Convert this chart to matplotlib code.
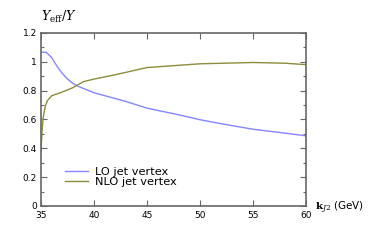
import matplotlib
matplotlib.use("Agg")
from matplotlib import pyplot as plt
from matplotlib.ticker import MultipleLocator

# LO / NLO jet vertex, Y_eff / Y vs k_J2
lo_k = [35, 35.5, 36, 36.5, 37, 37.5, 38, 38.5, 39, 40, 41, 42, 43, 45, 48, 50, 52, 55, 58, 60]
lo_y = [1.068, 1.065, 1.03, 0.97, 0.92, 0.88, 0.85, 0.83, 0.815, 0.785, 0.765, 0.745, 0.725, 0.678, 0.632, 0.598, 0.57, 0.532, 0.505, 0.486]

nlo_k = [35, 35.1, 35.2, 35.4, 35.6, 36, 37, 38, 39, 40, 42, 45, 50, 55, 58, 60]
nlo_y = [0.38, 0.52, 0.61, 0.69, 0.73, 0.764, 0.79, 0.82, 0.862, 0.88, 0.91, 0.96, 0.986, 0.995, 0.99, 0.98]

x_ticks = [35, 40, 45, 50, 55, 60]
y_ticks = [0, 0.2, 0.4, 0.6, 0.8, 1, 1.2]
y_tick_labels = ["0", "0.2", "0.4", "0.6", "0.8", "1", "1.2"]


def main():
    plt.rcParams["mathtext.fontset"] = "dejavuserif"
    fig = plt.figure(figsize=(3.82, 2.44), dpi=100)
    ax = fig.add_axes([0.1073, 0.156, 0.694, 0.709])

    ax.plot(lo_k, lo_y, color="#8585ff", lw=1.0, label="LO jet vertex")
    ax.plot(nlo_k, nlo_y, color="#8c8c3a", lw=1.0, label="NLO jet vertex")

    ax.set_xlim(35, 60)
    ax.set_ylim(0, 1.2)
    ax.set_xticks(x_ticks)
    ax.set_yticks(y_ticks)
    ax.set_yticklabels(y_tick_labels)
    ax.yaxis.set_minor_locator(MultipleLocator(0.1))
    ax.tick_params(which="both", direction="in", top=True, right=True,
                   color="#666666", labelsize=6.5, pad=3)
    ax.tick_params(which="major", length=4, width=0.8)
    ax.tick_params(which="minor", length=2.5, width=0.8)
    ax.tick_params(axis="x", which="major", pad=4)
    for s in ax.spines.values():
        s.set_color("#666666")
        s.set_linewidth(1.2)

    fig.text(0.155, 0.93, r"$Y_{\rm eff}/Y$", fontsize=9, ha="center",
             va="center")
    fig.text(0.825, 0.148, r"$\mathbf{k}_{J2}$ (GeV)", fontsize=7.5,
             ha="left", va="center")

    ax.legend(loc="lower left", bbox_to_anchor=(0.07, 0.075), frameon=False,
              fontsize=8.2, handlelength=2.0, handletextpad=0.6,
              labelspacing=0.0, borderpad=0)

    fig.savefig("out.png", dpi=100)


if __name__ == "__main__":
    main()
